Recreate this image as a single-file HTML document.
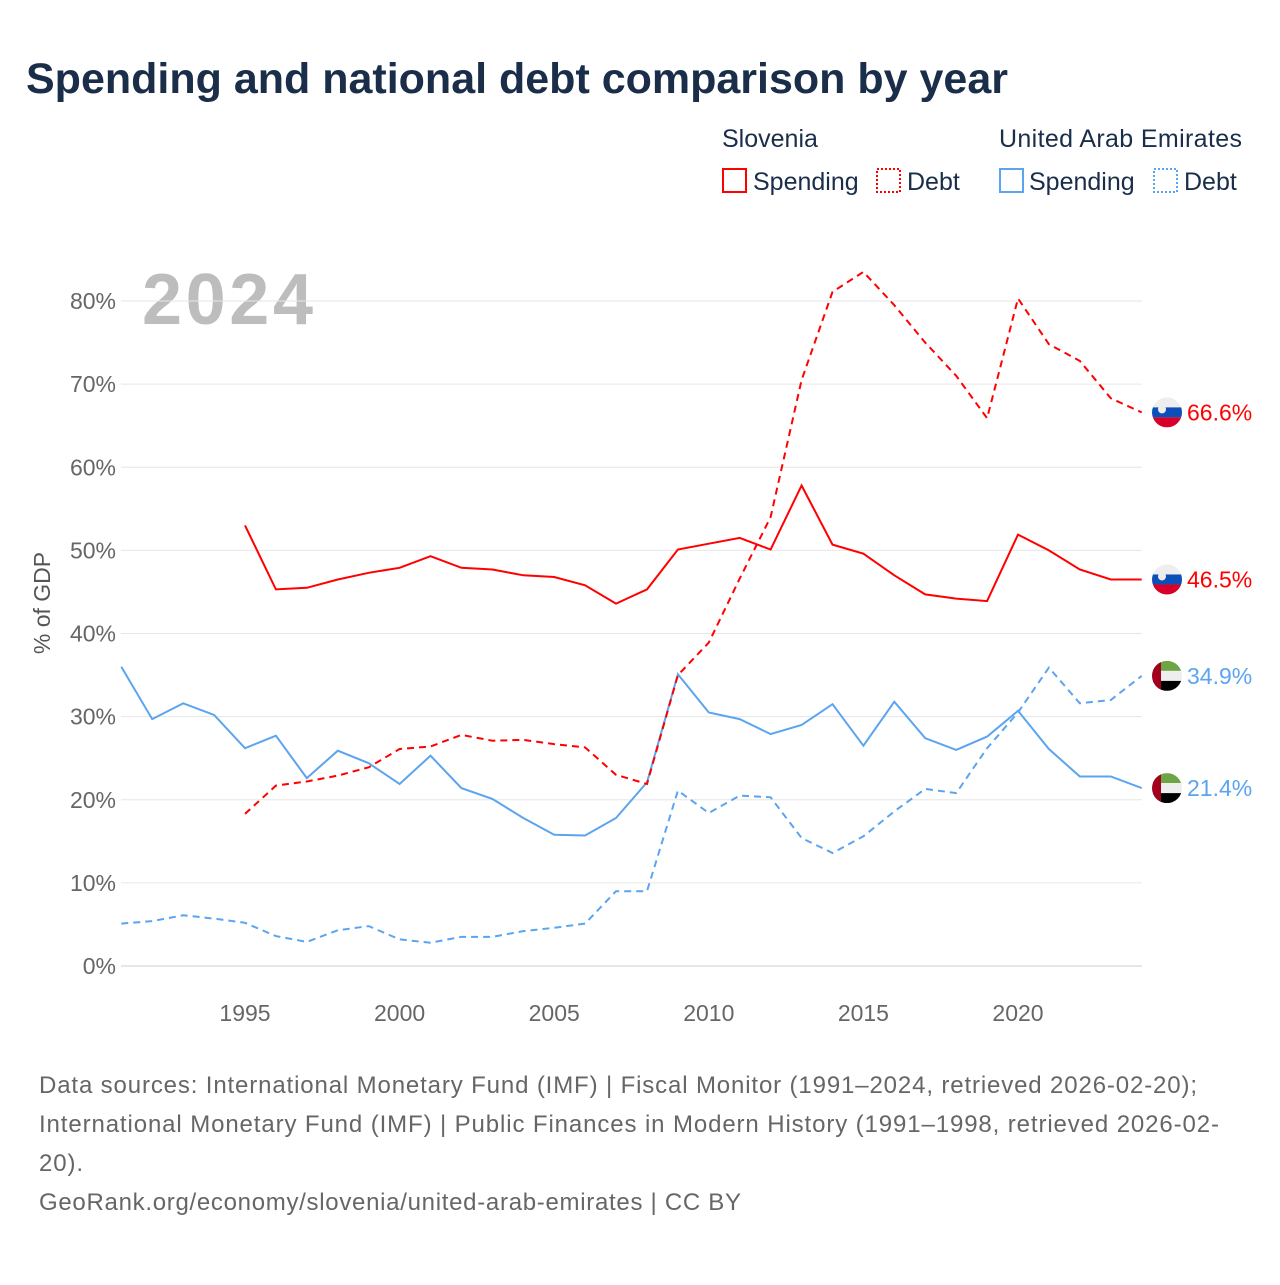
<!DOCTYPE html>
<html><head><meta charset="utf-8"><style>
body{margin:0;background:#fff;font-family:"Liberation Sans",sans-serif}
svg text{font-family:"Liberation Sans",sans-serif}
</style></head><body>
<svg id="c" width="1280" height="1280" viewBox="0 0 1280 1280" xmlns="http://www.w3.org/2000/svg">
<text x="26" y="93" font-size="43" font-weight="bold" fill="#1a2e4a">Spending and national debt comparison by year</text>
<g font-size="25" fill="#1a2e4a">
<text x="722" y="147">Slovenia</text>
<text x="999" y="147" textLength="243">United Arab Emirates</text>
<g><rect x="723" y="169" width="23" height="23" fill="none" stroke="#ff0000" stroke-width="2"/><text x="753" y="190">Spending</text></g>
<g><rect x="877" y="169" width="23" height="23" fill="none" stroke="#ff0000" stroke-width="2" stroke-dasharray="2,2"/><text x="907" y="190">Debt</text></g>
<g><rect x="1000" y="169" width="23" height="23" fill="none" stroke="#5ba4ef" stroke-width="2"/><text x="1029" y="190">Spending</text></g>
<g><rect x="1154" y="169" width="23" height="23" fill="none" stroke="#5ba4ef" stroke-width="2" stroke-dasharray="2,2"/><text x="1184" y="190">Debt</text></g>
</g>
<text x="142" y="324" font-size="72" font-weight="bold" fill="#bdbdbd" textLength="171">2024</text>
<text transform="translate(50,603) rotate(-90)" text-anchor="middle" font-size="23" fill="#555">% of GDP</text>
<g id="grid"></g><g id="series"></g><g id="ends"></g>
<g font-size="24" fill="#666">
<text x="39" y="1093" textLength="1158">Data sources: International Monetary Fund (IMF) | Fiscal Monitor (1991–2024, retrieved 2026-02-20);</text>
<text x="39" y="1132" textLength="1180">International Monetary Fund (IMF) | Public Finances in Modern History (1991–1998, retrieved 2026-02-</text>
<text x="39" y="1171" textLength="44">20).</text>
<text x="39" y="1210" textLength="702">GeoRank.org/economy/slovenia/united-arab-emirates | CC BY</text>
</g>
</svg>
<script>
const yTicks=[0,10,20,30,40,50,60,70,80];
const xTicks=[1995,2000,2005,2010,2015,2020];
const siSpendYears=[1995,1996,1997,1998,1999,2000,2001,2002,2003,2004,2005,2006,2007,2008,2009,2010,2011,2012,2013,2014,2015,2016,2017,2018,2019,2020,2021,2022,2023,2024];
const siSpend=[53.0,45.3,45.5,46.5,47.3,47.9,49.3,47.9,47.7,47.0,46.8,45.8,43.6,45.3,50.1,50.8,51.5,50.1,57.8,50.7,49.6,47.0,44.7,44.2,43.9,51.9,50.0,47.7,46.5,46.5];
const siDebt=[18.3,21.7,22.2,22.9,23.9,26.1,26.4,27.8,27.1,27.2,26.7,26.3,23.0,21.9,35.0,38.9,46.6,54.0,70.5,81.1,83.5,79.5,75.0,71.0,65.9,80.3,74.8,72.8,68.3,66.6];
const uaeYears=[1991,1992,1993,1994,1995,1996,1997,1998,1999,2000,2001,2002,2003,2004,2005,2006,2007,2008,2009,2010,2011,2012,2013,2014,2015,2016,2017,2018,2019,2020,2021,2022,2023,2024];
const uaeSpend=[36.0,29.7,31.6,30.2,26.2,27.7,22.6,25.9,24.4,21.9,25.3,21.4,20.1,17.8,15.8,15.7,17.8,22.1,35.1,30.5,29.7,27.9,29.0,31.5,26.5,31.8,27.4,26.0,27.6,30.7,26.1,22.8,22.8,21.4];
const uaeDebt=[5.1,5.4,6.1,5.7,5.2,3.6,2.9,4.3,4.8,3.2,2.8,3.5,3.5,4.2,4.6,5.1,9.0,9.0,21.1,18.4,20.5,20.3,15.4,13.6,15.6,18.6,21.3,20.8,26.2,30.5,35.9,31.6,32.0,34.9];
const NS='http://www.w3.org/2000/svg';
const X=y=>245+(y-1995)*30.92;
const Y=v=>966-v*8.3125;
const mk=(t,a,p)=>{const e=document.createElementNS(NS,t);for(const k in a)e.setAttribute(k,a[k]);p.appendChild(e);return e;};
const grid=document.getElementById('grid');
yTicks.forEach(v=>{
 const l=mk('line',{x1:121,x2:1142,y1:Y(v),y2:Y(v),stroke:v===0?'#ccc':'#e6e6e6','stroke-width':1},grid);
 
 
 const t=mk('text',{x:116,y:Y(v)+8,'text-anchor':'end','font-size':23,fill:'#666'},grid);
 t.textContent=v+'%';
 
 
});
xTicks.forEach(y=>{
 const t=mk('text',{x:X(y),y:1021,'text-anchor':'middle','font-size':23,fill:'#666'},grid);
 t.textContent=y;
 
 
});
const ser=document.getElementById('series');
function line(xs,vs,col,dash,name){
 const d=vs.map((v,i)=>(i?'L':'M')+X(xs[i]).toFixed(1)+','+Y(v).toFixed(1)).join('');
 const p=mk('path',{d:d,fill:'none',stroke:col,'stroke-width':2,'stroke-dasharray':dash||'none'},ser);
 
 
}
line(uaeYears,uaeDebt,'#5ba4ef','7,5','line-uae-debt');
line(uaeYears,uaeSpend,'#5ba4ef','','line-uae-spending');
line(siSpendYears,siDebt,'#ff0000','7,5','line-slovenia-debt');
line(siSpendYears,siSpend,'#ff0000','','line-slovenia-spending');
const ends=document.getElementById('ends');
function flag(v,type,col,name){
 const cy=Y(v),cx=1167,r=15;
 const g=mk('g',{},ends);
 
 
 const id='cl'+name;
 const cp=mk('clipPath',{id:id},g);mk('circle',{cx:cx,cy:cy,r:r},cp);
 const f=mk('g',{'clip-path':'url(#'+id+')'},g);
 if(type==='si'){
  mk('rect',{x:cx-r,y:cy-r,width:2*r,height:2*r/3,fill:'#eee'},f);
  mk('rect',{x:cx-r,y:cy-r/3,width:2*r,height:2*r/3,fill:'#0d4fb8'},f);
  mk('rect',{x:cx-r,y:cy+r/3,width:2*r,height:2*r/3,fill:'#d8002a'},f);
  mk('circle',{cx:cx-5,cy:cy-3,r:4,fill:'#eee'},f);
 }else{
  mk('rect',{x:cx-r,y:cy-r,width:2*r,height:2*r/3,fill:'#6da544'},f);
  mk('rect',{x:cx-r,y:cy-r/3,width:2*r,height:2*r/3,fill:'#eee'},f);
  mk('rect',{x:cx-r,y:cy+r/3,width:2*r,height:2*r/3,fill:'#000'},f);
  mk('rect',{x:cx-r,y:cy-r,width:9,height:2*r,fill:'#a2001d'},f);
 }
 const t=mk('text',{x:1187,y:cy+8,'font-size':23,fill:col},g);
 t.textContent=v.toFixed(1)+'%';
}
flag(siDebt[siDebt.length-1],'si','#ff0000','end-label-slovenia-debt');
flag(siSpend[siSpend.length-1],'si','#ff0000','end-label-slovenia-spending');
flag(uaeDebt[uaeDebt.length-1],'ae','#5ba4ef','end-label-uae-debt');
flag(uaeSpend[uaeSpend.length-1],'ae','#5ba4ef','end-label-uae-spending');
</script>
</body></html>
